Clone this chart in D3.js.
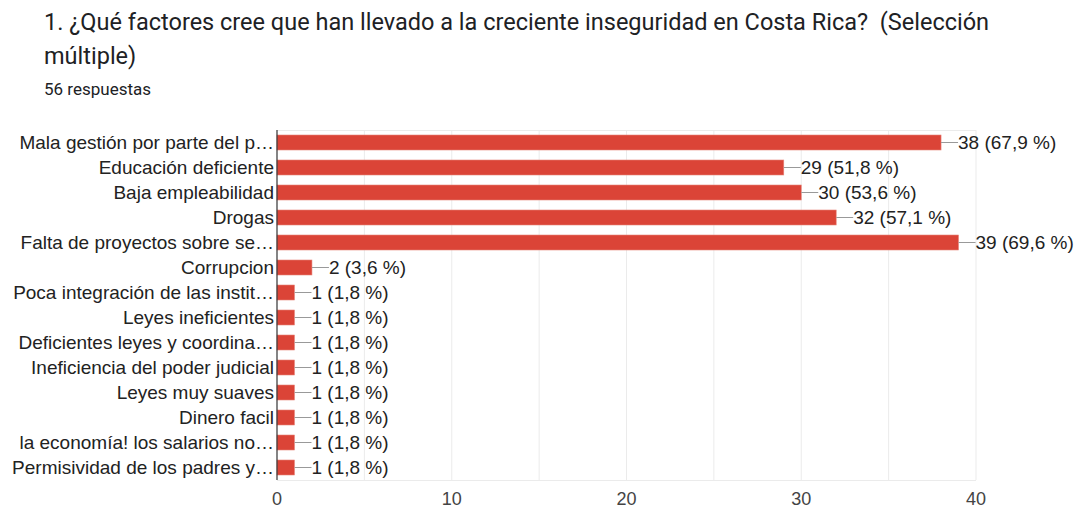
<!DOCTYPE html>
<html><head><meta charset="utf-8">
<script src="https://cdn.jsdelivr.net/npm/d3@7"></script>
<style>body{margin:0;background:#fff}svg{display:block}</style>
</head><body>
<svg id="c" width="1077" height="508"></svg>
<script>
const titleLines = ["1. ¿Qué factores cree que han llevado a la creciente inseguridad en Costa Rica?  (Selección", "múltiple)"];
const subtitle = "56 respuestas";
const categories = ["Mala gestión por parte del p…","Educación deficiente","Baja empleabilidad","Drogas","Falta de proyectos sobre se…","Corrupcion","Poca integración de las instit…","Leyes ineficientes","Deficientes leyes y coordina…","Ineficiencia del poder judicial","Leyes muy suaves","Dinero facil","la economía! los salarios no…","Permisividad de los padres y…"];
const counts = [38,29,30,32,39,2,1,1,1,1,1,1,1,1];
const percents = ["67,9","51,8","53,6","57,1","69,6","3,6","1,8","1,8","1,8","1,8","1,8","1,8","1,8","1,8"];
const xTicks = [0,10,20,30,40];
const gridTicks = [5,10,15,20,25,30,35,40];

const svg = d3.select("#c");
const m = {left:277, right:976, top:130, bottom:480};
const x = d3.scaleLinear().domain([0,40]).range([m.left,m.right]);
const y = d3.scaleBand().domain(categories).range([m.top,m.bottom]).paddingInner(0.4).paddingOuter(0.2);

svg.selectAll("text.title").data(titleLines).join("text")
  .attr("x",44).attr("y",(d,i)=>30+i*34).style("white-space","pre")
  .attr("font-family","Roboto, sans-serif").attr("font-size",23.5).attr("fill","#202124").text(d=>d);
svg.append("text").attr("x",44).attr("y",95).attr("font-family","Roboto, sans-serif")
  .attr("font-size",17).attr("fill","#202124").text(subtitle);

// grid
svg.selectAll("line.grid").data(gridTicks).join("line")
  .attr("x1",d=>x(d)).attr("x2",d=>x(d)).attr("y1",m.top).attr("y2",m.bottom)
  .attr("stroke","#ebebeb").attr("stroke-width",1);
svg.append("line").attr("x1",m.left).attr("x2",m.right).attr("y1",m.top+0.5).attr("y2",m.top+0.5).attr("stroke","#ebebeb");
svg.append("line").attr("x1",m.left).attr("x2",m.right).attr("y1",m.bottom+0.5).attr("y2",m.bottom+0.5).attr("stroke","#ebebeb");

// bars
svg.selectAll("rect.bar").data(categories).join("rect")
  .attr("x",x(0)).attr("y",d=>y(d)).attr("width",(d,i)=>x(counts[i])-x(0)).attr("height",y.bandwidth())
  .attr("fill","#db4437").attr("stroke","#e8857b").attr("stroke-width",0.6);

// leader lines
svg.selectAll("line.lead").data(categories).join("line")
  .attr("x1",(d,i)=>x(counts[i])).attr("x2",(d,i)=>x(counts[i])+17)
  .attr("y1",d=>y(d)+y.bandwidth()/2).attr("y2",d=>y(d)+y.bandwidth()/2)
  .attr("stroke","#999").attr("stroke-width",1);

svg.selectAll("text.val").data(categories).join("text")
  .attr("x",(d,i)=>x(counts[i])+17).attr("y",d=>y(d)+y.bandwidth()/2).attr("dy","0.36em")
  .attr("font-family","Liberation Sans, Arial, sans-serif").attr("font-size",19).attr("fill","#222")
  .text((d,i)=>`${counts[i]} (${percents[i]} %)`);

// category labels
svg.selectAll("text.cat").data(categories).join("text")
  .attr("x",m.left-3).attr("y",d=>y(d)+y.bandwidth()/2).attr("dy","0.36em").attr("text-anchor","end")
  .attr("font-family","Liberation Sans, Arial, sans-serif").attr("font-size",19).attr("fill","#222").text(d=>d);

// zero axis line
svg.append("line").attr("x1",x(0)).attr("x2",x(0)).attr("y1",m.top).attr("y2",m.bottom)
  .attr("stroke","#333").attr("stroke-width",1.2);

// x tick labels
svg.selectAll("text.tick").data(xTicks).join("text")
  .attr("x",d=>x(d)).attr("y",505).attr("text-anchor","middle")
  .attr("font-family","Liberation Sans, Arial, sans-serif").attr("font-size",18).attr("fill","#444").text(d=>d);
</script>
</body></html>
